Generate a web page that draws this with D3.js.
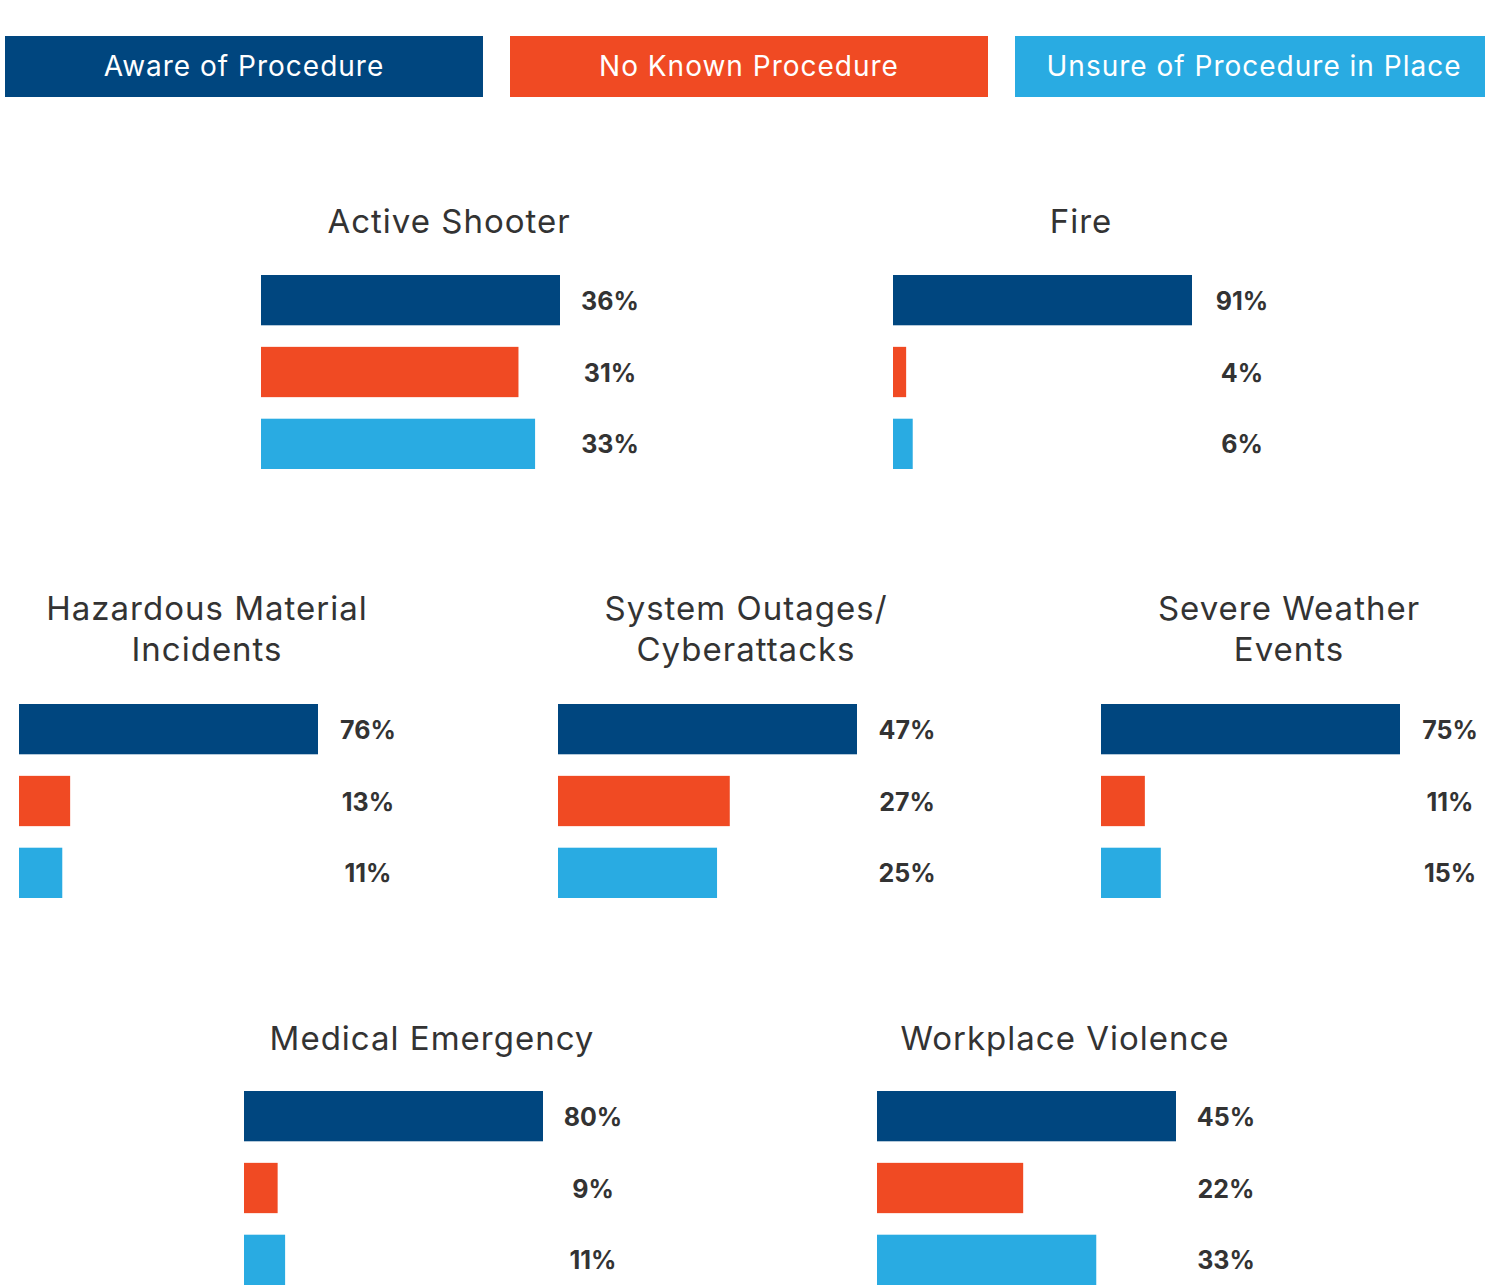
<!DOCTYPE html>
<html>
<head>
<meta charset="utf-8">
<script src="https://cdn.jsdelivr.net/npm/d3@7"></script>
<style>
  body { margin: 0; background: #fff; }
  svg text { font-family: Inter, "Open Sans", sans-serif; }
</style>
</head>
<body>
<svg id="chart"></svg>
<script>
const width = 1485, height = 1287;

// data
const seriesNames = ["Aware of Procedure", "No Known Procedure", "Unsure of Procedure in Place"];
const categories = [
  "Active Shooter",
  "Fire",
  "Hazardous Material\nIncidents",
  "System Outages/\nCyberattacks",
  "Severe Weather\nEvents",
  "Medical Emergency",
  "Workplace Violence"
];
const aware   = [36, 91, 76, 47, 75, 80, 45];
const noKnown = [31,  4, 13, 27, 11,  9, 22];
const unsure  = [33,  6, 11, 25, 15, 11, 33];

const colors = ["#00467f", "#f04a23", "#29abe2"];

// layout: left edge of the bars for every panel, and the rows
const panelX = [261, 893, 19, 558, 1101, 244, 877];
const panelRow = [0, 0, 1, 1, 1, 2, 2];
const rowBarTop = [275, 704, 1091];
const rowTitleBase = [233, 620, 1050];

const barMax = 299, labelOffset = 349, titleOffset = 188;

const svg = d3.select("#chart")
    .attr("width", width)
    .attr("height", height);

// legend boxes
const legendX = d3.scaleBand()
    .domain(seriesNames)
    .range([5, 1493])
    .paddingInner(0.0535);

const legend = svg.append("g").selectAll("g")
    .data(seriesNames)
    .join("g");

legend.append("rect")
    .attr("x", d => legendX(d))
    .attr("y", 36)
    .attr("width", legendX.bandwidth())
    .attr("height", 61)
    .attr("fill", (d, i) => colors[i]);

legend.append("text")
    .attr("x", d => Math.min(legendX(d) + legendX.bandwidth() / 2, 1254))
    .attr("y", 76)
    .attr("text-anchor", "middle")
    .attr("fill", "#fff")
    .style("font-size", "28px")
    .style("letter-spacing", "1px")
    .text(d => d);

// one small bar group per category
const barY = d3.scaleBand()
    .domain(d3.range(3))
    .range([0, 194])
    .paddingInner(0.3);

categories.forEach((cat, i) => {
    const values = [aware[i], noKnown[i], unsure[i]];
    const x0 = panelX[i];
    const row = panelRow[i];

    const x = d3.scaleLinear()
        .domain([0, d3.max(values)])
        .range([0, barMax]);

    const g = svg.append("g")
        .attr("transform", `translate(${x0},${rowBarTop[row]})`);

    // title (may be two lines)
    const lines = cat.split("\n");
    const title = svg.append("text")
        .attr("x", x0 + titleOffset)
        .attr("y", rowTitleBase[row])
        .attr("text-anchor", "middle")
        .attr("fill", "#333")
        .style("font-size", "33px")
        .style("letter-spacing", "1px");
    lines.forEach((line, k) => {
        title.append("tspan")
            .attr("x", x0 + titleOffset)
            .attr("dy", k === 0 ? 0 : 41)
            .text(line);
    });

    g.selectAll("rect")
        .data(values)
        .join("rect")
        .attr("x", 0)
        .attr("y", (d, k) => barY(k))
        .attr("width", d => x(d))
        .attr("height", barY.bandwidth())
        .attr("fill", (d, k) => colors[k]);

    g.selectAll("text")
        .data(values)
        .join("text")
        .attr("x", labelOffset)
        .attr("y", (d, k) => barY(k) + barY.bandwidth() / 2)
        .attr("dy", "0.38em")
        .attr("text-anchor", "middle")
        .attr("fill", "#333")
        .style("font-size", "25px")
        .style("font-weight", "700")
        .text(d => d + "%");
});
</script>
</body>
</html>
